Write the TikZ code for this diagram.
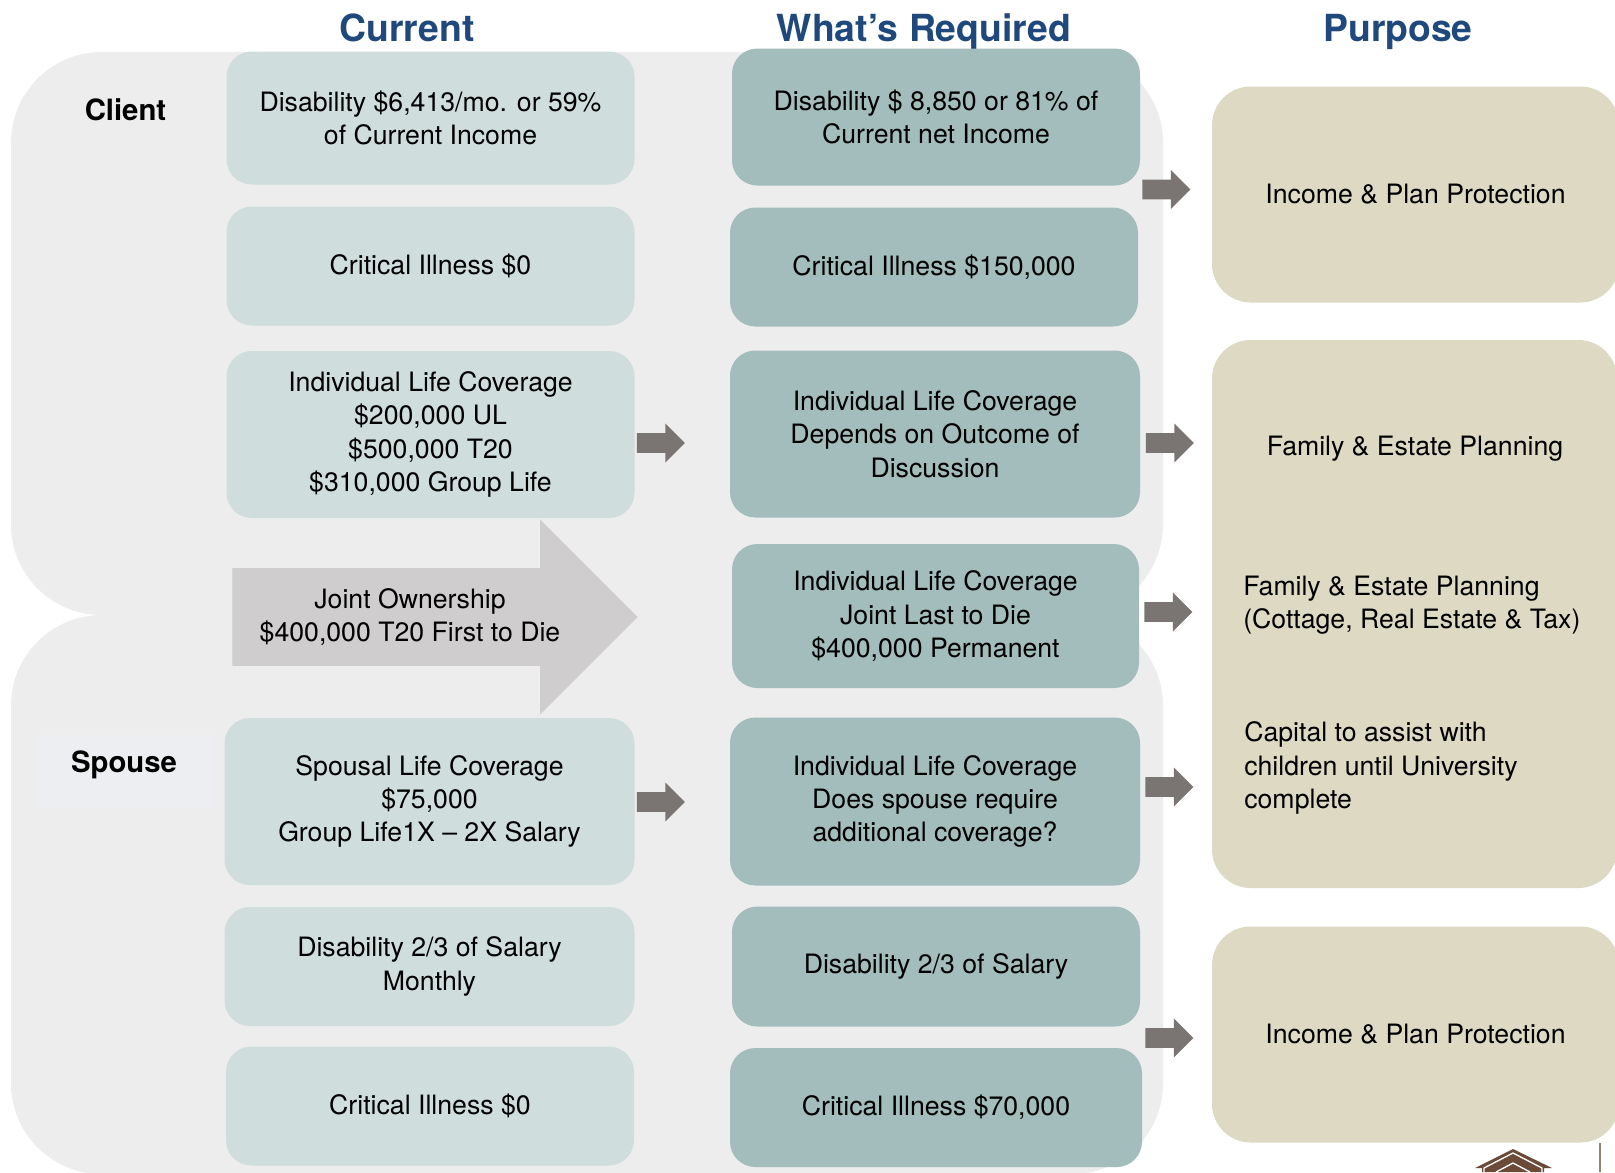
\documentclass[tikz,border=0pt]{standalone}
\usepackage{fontspec}
\setmainfont{TeX Gyre Heros}
\usetikzlibrary{shapes.arrows}
\definecolor{panelgray}{HTML}{EDEDED}
\definecolor{curfill}{HTML}{CFDDDC}
\definecolor{reqfill}{HTML}{A3BCBC}
\definecolor{purfill}{HTML}{DDD9C3}
\definecolor{headblue}{HTML}{1F497D}
\definecolor{jointfill}{HTML}{CFCDCE}
\definecolor{arrowgray}{HTML}{7A7472}
\definecolor{roofbrown}{HTML}{6B4A38}
\definecolor{spousefill}{HTML}{ECEEF2}
\tikzset{
  boxsize/.style 2 args={minimum width=#1*.75pt, minimum height=#2*.75pt},
  txt/.style={font=\fontsize{20}{25}\selectfont, align=center, inner sep=0pt},
  curbox/.style={txt, fill=curfill, rounded corners=19pt},
  reqbox/.style={txt, fill=reqfill, rounded corners=19pt},
  purbox/.style={txt, fill=purfill, rounded corners=29pt},
  head/.style={font=\fontsize{28}{32}\selectfont\bfseries, text=headblue, inner sep=0pt, anchor=base},
  who/.style={font=\fontsize{22}{26}\selectfont\bfseries, inner sep=0pt},
  smallarrow/.style={single arrow, anchor=tail, fill=arrowgray, inner xsep=0pt, inner ysep=7.2pt,
    single arrow head extend=7.2pt},
}
\begin{document}
\begin{tikzpicture}[x=.75pt, y=-.75pt]
\useasboundingbox (0,0) rectangle (1615,1172);

% panels
\fill[panelgray, rounded corners=68pt] (11,52) rectangle (1163,615);
\fill[panelgray, rounded corners=68pt] (11,615) rectangle (1163,1174);
\fill[panelgray] (105,600) rectangle (1065,630);

\node[head] (curhead) at (407,41) {Current};
\node[head] (reqhead) at (924,41) {What’s Required};
\node[head] (purhead) at (1398,41) {Purpose};

\node[who] (client) at (125.5,110) {Client};
\node[fill=spousefill, inner sep=0pt, boxsize={177}{72}] (spouse) at (124.5,771) {};
\node[who] (spousetxt) at (124,765) {Spouse};

% current
\node[curbox, boxsize={408}{133}] (cur1) at (430.5,118) {Disability \$6,413/mo. or 59\%\\of Current Income};
\node[curbox, boxsize={408}{119}] (cur2) at (430.5,266) {Critical Illness \$0};
\node[curbox, boxsize={408}{167}] (cur3) at (430.5,434.5) {Individual Life Coverage\\\$200,000 UL\\\$500,000 T20\\\$310,000 Group Life};
\node[curbox, boxsize={410}{167}] (cur4) at (429.5,801.5) {Spousal Life Coverage\\\$75,000\\Group Life1X – 2X Salary};
\node[curbox, boxsize={410}{119}] (cur5) at (429.5,966.5) {Disability 2/3 of Salary\\Monthly};
\node[curbox, boxsize={408}{119}] (cur6) at (430,1106) {Critical Illness \$0};

% joint
\node[single arrow, anchor=tail, fill=jointfill, inner xsep=0pt, inner ysep=36.5pt,
  minimum height=304pt, single arrow head extend=36.5pt] (joint) at (232,617) {};
\node[txt] (jointtxt) at (410,617) {Joint Ownership\\\$400,000 T20 First to Die};

% required
\node[reqbox, boxsize={408}{137}] (req1) at (936,117) {Disability \$ 8,850 or 81\% of\\Current net Income};
\node[reqbox, boxsize={408}{119}] (req2) at (934,267) {Critical Illness \$150,000};
\node[reqbox, boxsize={410}{167}] (req3) at (935,434) {Individual Life Coverage\\Depends on Outcome of\\Discussion};
\node[reqbox, boxsize={407}{144}] (req4) at (935.5,616) {Individual Life Coverage\\Joint Last to Die\\\$400,000 Permanent};
\node[reqbox, boxsize={410}{168}] (req5) at (935,801.5) {Individual Life Coverage\\Does spouse require\\additional coverage?};
\node[reqbox, boxsize={408}{120}] (req6) at (936,966.5) {Disability 2/3 of Salary};
\node[reqbox, boxsize={412}{119}] (req7) at (936,1107.5) {Critical Illness \$70,000};

% purpose
\node[purbox, boxsize={407}{216}] (pur1) at (1415.5,194.5) {Income \& Plan Protection};
\node[purbox, boxsize={405}{280}] (pur2) at (1414.5,480) {};
\node[purbox, boxsize={405}{288}] (pur4) at (1414.5,744) {};
\node[txt, fill=purfill, boxsize={405}{160}] (pur3) at (1414,603) {};
\node[txt] (pur2txt) at (1415,449) {Family \& Estate Planning};
\node[txt, align=left, anchor=west] (pur3txt) at (1243,605.5) {Family \& Estate Planning\\(Cottage, Real Estate \& Tax)};
\node[txt, align=left, anchor=west] (pur4txt) at (1244,768) {Capital to assist with\\children until University\\complete};
\node[purbox, boxsize={407}{216}] (pur5) at (1415.5,1034.5) {Income \& Plan Protection};

% block arrows
\foreach \n/\x/\y in {a1/1142/189.5, a2/636.5/443, a3/1145.5/443, a4/1144/612, a5/636.5/802, a6/1145/787, a7/1145/1038}
  \node[smallarrow, minimum height=36pt] (\n) at (\x,\y) {};

% logo
\fill[roofbrown] (1513,1149)--(1552,1168)--(1544,1168)--(1544,1172)--(1482,1172)--(1482,1168)--(1475,1168)--cycle;
\draw[white, line width=1pt] (1484,1172)--(1484,1168)--(1513,1153)--(1542,1168)--(1542,1172);
\draw[white, line width=1pt] (1496,1172)--(1513,1163)--(1530,1172);
\draw[roofbrown!70, line width=.8pt] (1600,1143)--(1600,1172);
\end{tikzpicture}
\end{document}
